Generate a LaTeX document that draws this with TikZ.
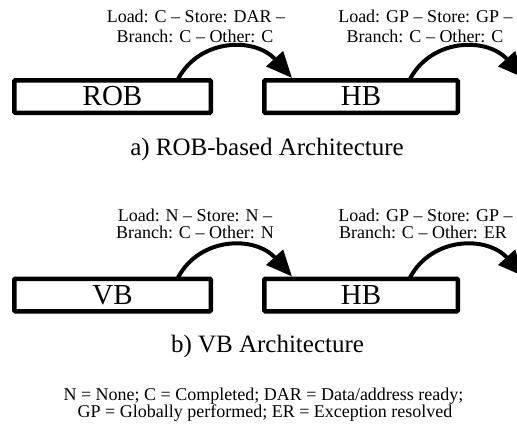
\documentclass[tikz,border=0pt]{standalone}
\usepackage{fontspec}
\setmainfont{LiberationSerif}[Extension=.ttf,UprightFont=*-Regular,BoldFont=*-Bold,ItalicFont=*-Italic,BoldItalicFont=*-BoldItalic]
\usetikzlibrary{arrows.meta}
\begin{document}
\begin{tikzpicture}[x=1pt,y=-1pt,
  stage/.style={draw, line width=4.5pt, rounded corners=1pt, inner sep=0pt,
    font=\rmfamily\fontsize{29}{32}\selectfont},
  flow/.style={line width=4pt, -{Triangle[length=26pt,width=22pt]}},
  note/.style={inner sep=0pt, anchor=base, font=\rmfamily\fontsize{18}{20}\selectfont},
  caption/.style={inner sep=0pt, anchor=base, font=\rmfamily\fontsize{25}{30}\selectfont}]
\useasboundingbox (0,0) rectangle (517,426);
\clip (0,0) rectangle (517,426);

% ---- a) ROB-based architecture
\node[stage, minimum width=196.5pt, minimum height=32.5pt] (rob) at (112.5,96.5) {ROB};
\node[stage, minimum width=193.5pt, minimum height=32.5pt] (hbA) at (361,96.5) {HB};
\coordinate (a1s) at (178,79);
\coordinate (a1e) at (292,78);
\coordinate (a2s) at (410,79);
\coordinate (a2e) at (524,78);
\draw[flow] (a1s) .. controls +(22,-41) and +(-37,-41) .. (a1e);
\draw[flow] (a2s) .. controls +(22,-41) and +(-37,-41) .. (a2e);
\node[note] (la1) at (196,22) {Load: C \textendash{} Store: DAR \textendash};
\node[note] (la2) at (195,42) {Branch: C \textendash{} Other: C};
\node[note] (lb1) at (425.5,22) {Load: GP \textendash{} Store: GP \textendash};
\node[note] (lb2) at (425,42) {Branch: C \textendash{} Other: C};
\node[caption] (capA) at (267,155) {a) ROB-based Architecture};

% ---- b) VB architecture
\node[stage, minimum width=196.5pt, minimum height=32.5pt] (vb) at (112.5,295) {VB};
\node[stage, minimum width=193.5pt, minimum height=32.5pt] (hbB) at (361,295) {HB};
\coordinate (b1s) at (178,277.5);
\coordinate (b1e) at (292,276.5);
\coordinate (b2s) at (410,277.5);
\coordinate (b2e) at (524,276.5);
\draw[flow] (b1s) .. controls +(22,-41) and +(-37,-41) .. (b1e);
\draw[flow] (b2s) .. controls +(22,-41) and +(-37,-41) .. (b2e);
\node[note] (lc1) at (195,221) {Load: N \textendash{} Store: N \textendash};
\node[note] (lc2) at (195,238) {Branch: C \textendash{} Other: N};
\node[note] (ld1) at (425.5,221) {Load: GP \textendash{} Store: GP \textendash};
\node[note] (ld2) at (423,238) {Branch: C \textendash{} Other: ER};
\node[caption] (capB) at (267.5,352) {b) VB Architecture};

% ---- legend
\node[note] (key1) at (263.5,400) {N = None; C = Completed; DAR = Data/address ready;};
\node[note] (key2) at (265,417.5) {GP = Globally performed; ER = Exception resolved};
\end{tikzpicture}
\end{document}
